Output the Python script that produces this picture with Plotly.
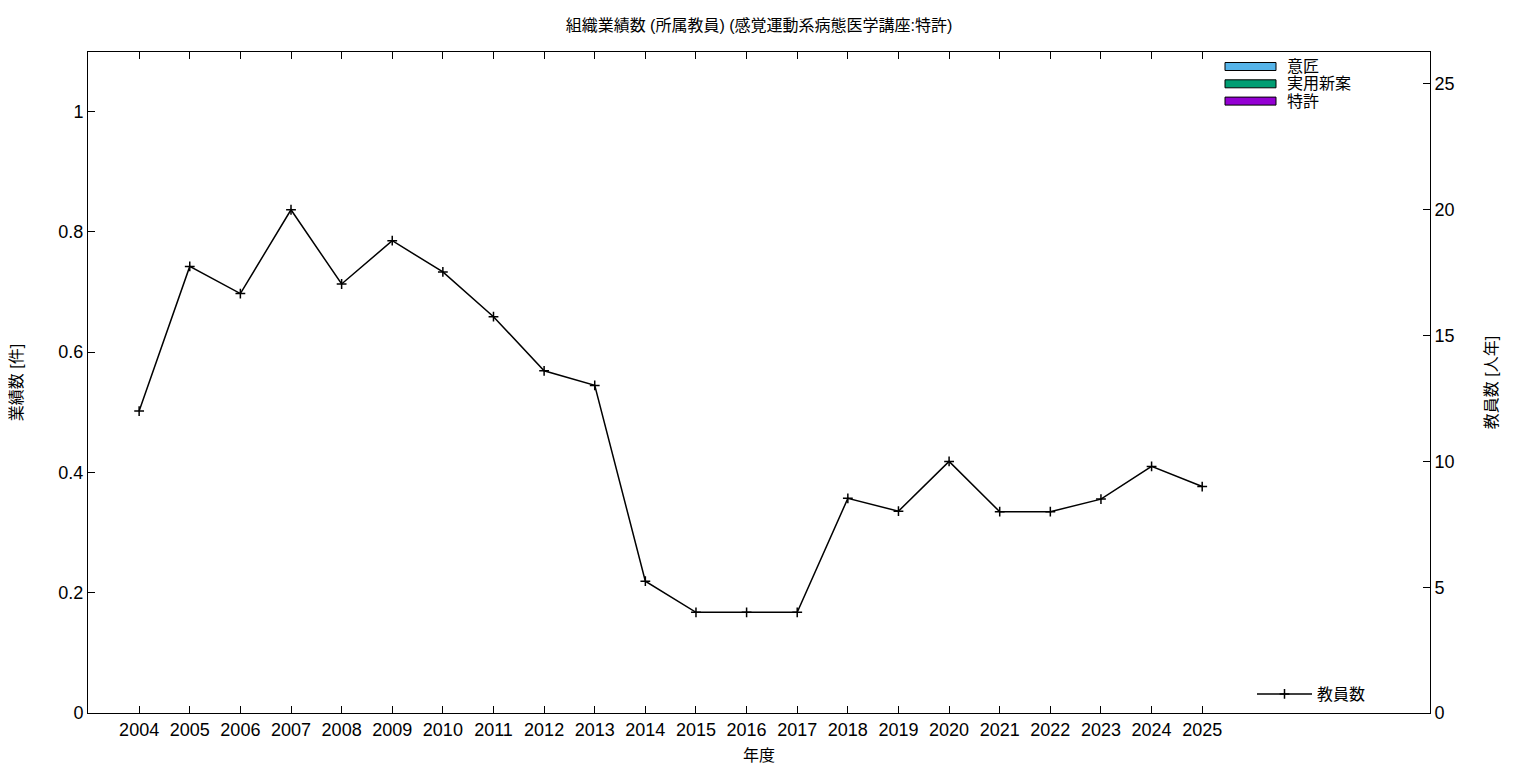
import plotly.graph_objects as go

years = [str(y) for y in range(2004, 2026)]
staff = [12.0, 17.75, 16.67, 20.0, 17.05, 18.77, 17.53, 15.75, 13.6, 13.02,
         5.24, 4.0, 4.0, 4.0, 8.53, 8.02, 10.0, 8.0, 8.0, 8.5, 9.8, 9.0]
design = [0] * len(years)
utility = [0] * len(years)
patent = [0] * len(years)

bar_names = ["意匠", "実用新案", "特許"]
bar_colors = ["#56b4e9", "#009e73", "#9400d3"]
bar_values = [design, utility, patent]

FONT = "Liberation Sans, Arial, Noto Sans CJK JP, sans-serif"
idx = list(range(len(years)))

# page body has an 8px margin; compensate so the plot lands where the reference has it
OFF = 8
W, H = 1536 - OFF, 768 - OFF
L, R, T, B = 88 - OFF, 106, 52 - OFF, 55
PW, PH = 1430 - 88, 713 - 52

fig = go.Figure()
for name, col, vals in zip(bar_names, bar_colors, bar_values):
    fig.add_trace(go.Bar(x=idx, y=vals, name=name, marker=dict(color=col, line=dict(width=0)),
                         showlegend=False, yaxis="y"))

fig.add_trace(go.Scatter(
    x=idx, y=staff, name="教員数", yaxis="y2", mode="lines+markers",
    line=dict(color="black", width=1.5),
    marker=dict(symbol="cross-thin", size=7, line=dict(color="black", width=1.5)),
    legend="legend2", showlegend=True,
))

shapes = []
annotations = []
for i, (name, col) in enumerate(zip(bar_names, bar_colors)):
    yc = 66.5 + i * 17.3
    shapes.append(dict(type="rect", xref="paper", yref="paper",
                       x0=(1225 - 88) / PW, x1=(1276 - 88) / PW,
                       y0=(713 - (yc + 4)) / PH, y1=(713 - (yc - 4)) / PH,
                       fillcolor=col, line=dict(color="black", width=1)))
    annotations.append(dict(text=name, xref="paper", yref="paper",
                            x=(1285 - 88) / PW, y=(713 - yc) / PH,
                            xanchor="left", yanchor="middle", showarrow=False,
                            font=dict(size=16, color="black", family=FONT)))

fig.update_layout(
    width=W, height=H,
    margin=dict(l=L, r=R, t=T, b=B),
    paper_bgcolor="white", plot_bgcolor="white",
    font=dict(family=FONT, size=16, color="black"),
    title=dict(text="組織業績数 (所属教員) (感覚運動系病態医学講座:特許)", x=0.5, xref="paper",
               y=1 - (25 - OFF) / H, yanchor="middle", font=dict(size=16, color="black")),
    barmode="stack",
    xaxis=dict(range=[-1.01, 25.5], tickmode="array", tickvals=idx, ticktext=years,
               ticks="inside", ticklen=7, tickwidth=1, tickcolor="black",
               showline=True, linecolor="black", linewidth=1, mirror="ticks",
               showgrid=False, zeroline=False, automargin=False,
               title=dict(text="年度", font=dict(size=16), standoff=11),
               tickfont=dict(size=18)),
    yaxis=dict(range=[0, 1.099], tickvals=[0, 0.2, 0.4, 0.6, 0.8, 1],
               ticktext=["0", "0.2", "0.4", "0.6", "0.8", "1"],
               ticks="inside", ticklen=7, tickwidth=1, tickcolor="black",
               showline=True, linecolor="black", linewidth=1, mirror=False,
               showgrid=False, zeroline=False, automargin=False,
               title=dict(text="業績数 [件]", font=dict(size=16), standoff=36),
               tickfont=dict(size=18)),
    yaxis2=dict(range=[0, 26.27], tickvals=[0, 5, 10, 15, 20, 25], overlaying="y", side="right",
                ticks="inside", ticklen=7, tickwidth=1, tickcolor="black",
                showline=True, linecolor="black", linewidth=1,
                showgrid=False, zeroline=False, automargin=False,
                title=dict(text="教員数 [人年]", font=dict(size=16), standoff=32),
                tickfont=dict(size=18)),
    legend2=dict(x=(1252 - 88) / PW, y=(713 - 694) / PH, xanchor="left", yanchor="middle",
                 xref="paper", yref="paper", itemwidth=55, bgcolor="rgba(0,0,0,0)",
                 font=dict(size=16, color="black")),
    shapes=shapes, annotations=annotations,
)

fig.write_html("out.html")
